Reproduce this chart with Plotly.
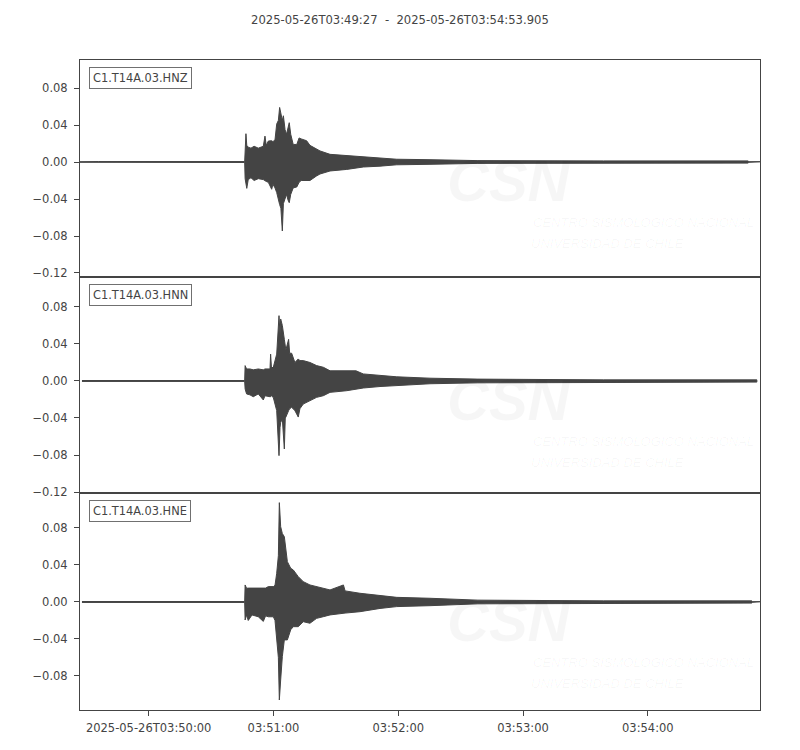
import plotly.graph_objects as go

# ---------------- data (seconds after 2025-05-26T03:49:27) ----------------
title_text = "2025-05-26T03:49:27  -  2025-05-26T03:54:53.905"
trace_ids = ["C1.T14A.03.HNZ", "C1.T14A.03.HNN", "C1.T14A.03.HNE"]
x_end = 326.905
tick_seconds = [33, 93, 153, 213, 273]
tick_labels = ["2025-05-26T03:50:00", "03:51:00", "03:52:00", "03:53:00", "03:54:00"]

# HNZ envelope (time, upper, lower)
hnz_t = [0.0, 8.8, 79.17, 79.38, 79.78, 80.18, 80.88, 82.19, 83.70, 85.71, 88.12, 88.93,
         89.53, 90.54, 92.15, 92.75, 93.75, 94.56, 95.36, 95.97, 96.57, 97.27, 97.78,
         98.58, 99.29, 99.99, 100.59, 101.30, 102.50, 104.22, 105.32, 106.32, 108.94,
         110.55, 113.76, 115.37, 120.20, 128.24, 136.19, 144.23, 152.28, 168.26, 191.29,
         251.62, 321.1, 321.6, 326.9]
hnz_up = [0.0003, 0.0005, 0.0005, 0.020, 0.0306, 0.018, 0.016, 0.015, 0.017, 0.015, 0.017,
          0.028, 0.018, 0.0227, 0.023, 0.022, 0.024, 0.041, 0.045, 0.059, 0.050, 0.045,
          0.050, 0.035, 0.030, 0.038, 0.0425, 0.030, 0.019, 0.019, 0.026, 0.025, 0.023,
          0.018, 0.0137, 0.012, 0.0083, 0.007, 0.0054, 0.0045, 0.003, 0.0025, 0.0015,
          0.0012, 0.0012, 0.0003, 0.0003]
hnz_lo = [-0.0003, -0.0005, -0.0005, -0.018, -0.020, -0.0285, -0.019, -0.017, -0.020,
          -0.018, -0.019, -0.020, -0.021, -0.022, -0.0295, -0.024, -0.028, -0.033, -0.040,
          -0.046, -0.050, -0.0746, -0.045, -0.040, -0.035, -0.041, -0.044, -0.035, -0.028,
          -0.027, -0.022, -0.020, -0.020, -0.020, -0.015, -0.013, -0.0097, -0.008, -0.0054,
          -0.0045, -0.003, -0.0025, -0.0015, -0.0012, -0.0012, -0.0003, -0.0003]

# HNN envelope
hnn_t = [0.94, 79.17, 79.38, 80.08, 81.69, 83.30, 85.71, 88.12, 88.93, 91.34, 91.64, 92.05,
         92.95, 94.56, 95.67, 96.17, 96.47, 97.27, 98.23, 98.68, 98.98, 100.29, 100.79,
         101.75, 103.31, 104.92, 105.72, 107.33, 110.55, 113.76, 116.98, 120.20, 128.24,
         132.67, 136.19, 144.23, 152.28, 168.26, 191.29, 251.62, 325.4]
hnn_up = [0.0005, 0.0005, 0.0166, 0.013, 0.013, 0.012, 0.013, 0.012, 0.013, 0.013, 0.029,
          0.014, 0.015, 0.029, 0.0706, 0.050, 0.067, 0.060, 0.045, 0.035, 0.0335, 0.045,
          0.030, 0.030, 0.020, 0.0238, 0.022, 0.022, 0.020, 0.0166, 0.0148, 0.011, 0.0105,
          0.011, 0.0076, 0.006, 0.0045, 0.003, 0.002, 0.0012, 0.0012]
hnn_lo = [-0.0005, -0.0005, -0.0086, -0.014, -0.015, -0.017, -0.014, -0.0205, -0.016,
          -0.017, -0.017, -0.016, -0.018, -0.032, -0.0807, -0.050, -0.045, -0.041, -0.0735,
          -0.040, -0.039, -0.032, -0.030, -0.0285, -0.032, -0.039, -0.030, -0.0249, -0.0213,
          -0.0177, -0.0159, -0.0123, -0.0105, -0.009, -0.0076, -0.006, -0.0045, -0.003,
          -0.002, -0.0012, -0.0012]

# HNE envelope
hne_t = [0.94, 79.17, 79.38, 80.08, 80.88, 82.69, 85.71, 88.12, 89.23, 90.54, 92.95, 93.75,
         94.56, 95.36, 95.83, 96.47, 97.27, 98.23, 99.69, 101.30, 102.55, 104.92, 107.33,
         110.55, 113.76, 116.98, 120.20, 126.64, 127.44, 134.58, 144.23, 152.28, 168.26,
         191.29, 251.62, 322.9, 323.4, 326.9]
hne_up = [0.0005, 0.0005, 0.0184, 0.0148, 0.015, 0.015, 0.0148, 0.015, 0.015, 0.0166,
          0.0166, 0.018, 0.031, 0.050, 0.1074, 0.0814, 0.074, 0.0706, 0.0436, 0.0364,
          0.0346, 0.0274, 0.022, 0.0184, 0.0166, 0.0148, 0.013, 0.0184, 0.012, 0.0094,
          0.007, 0.005, 0.004, 0.002, 0.0012, 0.0012, 0.0003, 0.0003]
hne_lo = [-0.0005, -0.0005, -0.0195, -0.014, -0.020, -0.014, -0.016, -0.021, -0.015,
          -0.016, -0.016, -0.020, -0.041, -0.060, -0.106, -0.0843, -0.059, -0.041, -0.041,
          -0.030, -0.0267, -0.0267, -0.0213, -0.023, -0.0177, -0.0159, -0.014, -0.0122,
          -0.012, -0.0105, -0.007, -0.005, -0.004, -0.002, -0.0012, -0.0012, -0.0003,
          -0.0003]

y_ranges = [[-0.1243, 0.1103], [-0.1211, 0.1124], [-0.1168, 0.1178]]

# ---------------- figure ----------------
ink = "#444444"
font_family = "DejaVu Sans"
tick_size = 11.5
# the page body adds an 8px offset, so the figure is 792x742 with a 72/52 offset margin
W, H = 792, 742
ML, MR, MT, MB = 72, 40, 52, 40
PW, PH = W - ML - MR, H - MT - MB  # 680 x 650
domains = [[0.6662, 1.0], [0.3338, 0.6662], [0.0, 0.3338]]
series = [(hnz_t, hnz_up, hnz_lo), (hnn_t, hnn_up, hnn_lo), (hne_t, hne_up, hne_lo)]

fig = go.Figure()
for i, (t, up, lo) in enumerate(series):
    ax = "" if i == 0 else str(i + 1)
    fig.add_trace(go.Scatter(
        x=list(t) + list(t)[::-1],
        y=list(up) + list(lo)[::-1],
        mode="lines", fill="toself", fillcolor=ink,
        line=dict(color=ink, width=1),
        xaxis="x" + ax, yaxis="y" + ax,
        showlegend=False, hoverinfo="skip",
    ))

layout = dict(
    width=W, height=H,
    margin=dict(l=ML, r=MR, t=MT, b=MB, autoexpand=False),
    paper_bgcolor="white", plot_bgcolor="white",
    font=dict(family=font_family, size=tick_size, color=ink),
    showlegend=False,
    annotations=[],
)

wm = "rgba(0,0,0,0.035)"
for i in range(3):
    ax = "" if i == 0 else str(i + 1)
    bottom = i == 2
    layout["xaxis" + ax] = dict(
        domain=[0.0, 1.0], anchor="y" + ax, range=[0, x_end],
        showline=True, linecolor=ink, linewidth=1, mirror=True,
        showgrid=False, zeroline=False,
        tickmode="array", tickvals=tick_seconds, ticktext=tick_labels,
        showticklabels=bottom, ticks="outside" if bottom else "",
        ticklen=5, tickcolor=ink, tickfont=dict(size=tick_size, color=ink),
        ticklabelstandoff=2,
        **({} if i == 0 else {"matches": "x"}),
    )
    layout["yaxis" + ax] = dict(
        domain=domains[i], anchor="x" + ax, range=y_ranges[i],
        showline=True, linecolor=ink, linewidth=1, mirror=True,
        showgrid=False, zeroline=False,
        tick0=0, dtick=0.04, tickformat=".2f",
        ticks="outside", ticklen=5, tickcolor=ink,
        tickfont=dict(size=tick_size, color=ink),
        ticklabelstandoff=4,
    )
    # station label box
    layout["annotations"].append(dict(
        xref="paper", yref="paper", x=9 / PW, y=domains[i][1] - 7 / PH,
        xanchor="left", yanchor="top", showarrow=False, text=trace_ids[i],
        font=dict(size=11.4, color=ink, family=font_family),
        bgcolor="white", bordercolor="#707070", borderwidth=1, borderpad=3,
    ))
    # faint watermark
    layout["annotations"].append(dict(
        xref="x" + ax, yref="y" + ax, x=206, y=-0.02, showarrow=False,
        text="<b><i>CSN</i></b>", font=dict(size=58, color=wm, family="Liberation Sans"),
    ))
    layout["annotations"].append(dict(
        xref="x" + ax, yref="y" + ax, x=217, y=-0.065, xanchor="left", showarrow=False,
        text="<i>CENTRO SISMOLÓGICO NACIONAL</i>",
        font=dict(size=13, color=wm, family="Liberation Sans"),
    ))
    layout["annotations"].append(dict(
        xref="x" + ax, yref="y" + ax, x=216, y=-0.088, xanchor="left", showarrow=False,
        text="<i>UNIVERSIDAD DE CHILE</i>",
        font=dict(size=13, color=wm, family="Liberation Sans"),
    ))

# title centred over the page
layout["annotations"].append(dict(
    xref="paper", yref="paper", x=(392 - ML) / PW, y=(H - MB - 12) / PH,
    showarrow=False, text=title_text, xanchor="center", yanchor="middle",
    font=dict(size=11.6, color=ink, family=font_family),
))

fig.update_layout(**layout)
fig.write_html("out.html")
